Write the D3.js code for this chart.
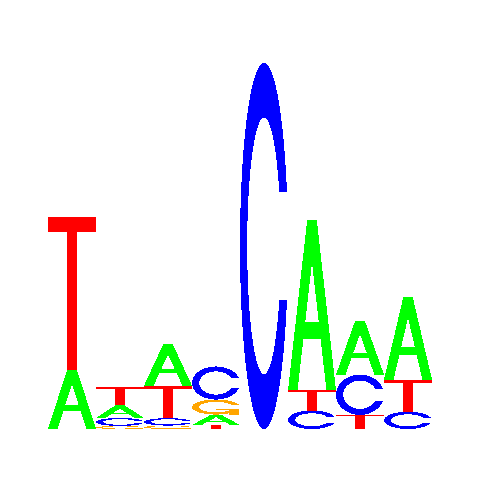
<!DOCTYPE html>
<html>
<head>
<meta charset="utf-8">
<script src="https://cdn.jsdelivr.net/npm/d3@7"></script>
<style>
html,body{margin:0;padding:0;background:#fff;}
svg{display:block;}
</style>
</head>
<body>
<svg id="chart" width="480" height="480"></svg>
<script>
// Sequence logo data (information content in bits per letter)
const positions = [1, 2, 3, 4, 5, 6, 7, 8];
const letters = ["A", "C", "G", "T"];
const valuesA = [0.313, 0.066, 0.218, 0.055, 0.000, 0.895, 0.284, 0.433];
const valuesC = [0.000, 0.042, 0.039, 0.174, 1.928, 0.097, 0.212, 0.091];
const valuesG = [0.000, 0.016, 0.018, 0.079, 0.000, 0.000, 0.000, 0.000];
const valuesT = [0.803, 0.097, 0.171, 0.021, 0.000, 0.108, 0.074, 0.169];
const letterColors = {A: "#00FF00", C: "#0000FF", G: "#FFA500", T: "#FF0000"};

const svg = d3.select("#chart");
const x = d3.scaleBand().domain(positions).range([48, 432]).padding(0);
const y = d3.scaleLinear().domain([0, 2]).range([429, 49]);

// Unit-box glyph polygons (seqLogo style), y upward 0..1
function cShape() {
  const n = 100;
  const a1 = d3.range(n).map(i => 0.3 + Math.PI / 2 + (Math.PI - (0.3 + Math.PI / 2)) * i / (n - 1));
  const a2 = d3.range(n).map(i => Math.PI + (0.5 * Math.PI) * i / (n - 1));
  const xl = a1.map(a => 0.5 + 0.5 * Math.sin(a)).concat(a2.map(a => 0.5 + 0.5 * Math.sin(a)));
  const yl1 = a1.map(a => 0.5 + 0.5 * Math.cos(a));
  const yl = yl1.concat(a2.map(a => 0.5 + 0.5 * Math.cos(a)));
  const ox = xl.concat(xl.slice().reverse());
  const oy = yl.concat(yl.slice().reverse().map(v => 1 - v));
  const maxY = d3.max(yl1);
  let xi1 = a1.map(a => 0.5 + 0.35 * Math.sin(a));
  let yi1 = a1.map(a => 0.5 + 0.35 * Math.cos(a));
  const keep = yi1.map(v => v <= maxY);
  xi1 = xi1.filter((v, i) => keep[i]);
  yi1 = yi1.filter((v, i) => keep[i]);
  yi1[0] = maxY;
  const xi = xi1.concat(a2.map(a => 0.5 + 0.35 * Math.sin(a)));
  const yi = yi1.concat(a2.map(a => 0.5 + 0.35 * Math.cos(a)));
  const ix = xi.concat(xi.slice().reverse());
  const iy = yi.concat(yi.slice().reverse().map(v => 1 - v));
  const px = ox.concat(ix.slice().reverse());
  const py = oy.concat(iy.slice().reverse());
  return {pts: px.map((v, i) => [v, py[i]]), r1: d3.max(xl.slice(0, n))};
}
const C = cShape();
const glyphs = {
  A: [
    {pts: [[0,0],[0.4,1],[0.6,1],[1,0],[0.8,0],[0.68,0.3],[0.32,0.3],[0.2,0],[0,0]], fill: null},
    {pts: [[0.36,0.4],[0.5,0.75],[0.64,0.4],[0.36,0.4]], fill: "#FFFFFF"}
  ],
  T: [
    {pts: [[0,1],[1,1],[1,0.9],[0.6,0.9],[0.6,0],[0.4,0],[0.4,0.9],[0,0.9]], fill: null}
  ],
  C: [
    {pts: C.pts, fill: null}
  ],
  G: [
    {pts: C.pts, fill: null},
    {pts: [[C.r1,0.4],[0.5,0.4],[0.5,0.3],[C.r1-0.2,0.3],[C.r1-0.2,0],[C.r1,0],[C.r1,0.4]], fill: null}
  ]
};

const series = {A: valuesA, C: valuesC, G: valuesG, T: valuesT};
const stacks = [];
positions.forEach((p, i) => {
  const items = letters.map(l => ({letter: l, value: series[l][i]}))
    .filter(d => d.value > 0)
    .sort((a, b) => a.value - b.value);
  let base = 0;
  items.forEach(d => {
    stacks.push({pos: p, letter: d.letter, y0: base, y1: base + d.value});
    base += d.value;
  });
});

const line = d3.line();
const g = svg.append("g").attr("class", "logo").attr("shape-rendering", "crispEdges");
stacks.forEach(s => {
  const x0 = x(s.pos), w = x.bandwidth();
  const yb = y(s.y0), yt = y(s.y1);
  glyphs[s.letter].forEach(part => {
    const pts = part.pts.map(([u, v]) => [x0 + u * w, yb + (yt - yb) * v]);
    g.append("path")
      .attr("d", line(pts) + "Z")
      .attr("fill", part.fill || letterColors[s.letter])
      .attr("stroke", "none");
  });
});
</script>
</body>
</html>
